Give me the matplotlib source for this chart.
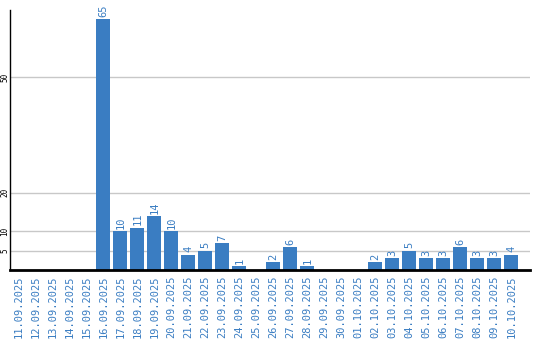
import matplotlib
matplotlib.use("Agg")
import matplotlib.pyplot as plt

dates = ["11.09.2025", "12.09.2025", "13.09.2025", "14.09.2025", "15.09.2025",
         "16.09.2025", "17.09.2025", "18.09.2025", "19.09.2025", "20.09.2025",
         "21.09.2025", "22.09.2025", "23.09.2025", "24.09.2025", "25.09.2025",
         "26.09.2025", "27.09.2025", "28.09.2025", "29.09.2025", "30.09.2025",
         "01.10.2025", "02.10.2025", "03.10.2025", "04.10.2025", "05.10.2025",
         "06.10.2025", "07.10.2025", "08.10.2025", "09.10.2025", "10.10.2025"]
counts = [0, 0, 0, 0, 0, 65, 10, 11, 14, 10, 4, 5, 7, 1, 0,
          2, 6, 1, 0, 0, 0, 2, 3, 5, 3, 3, 6, 3, 3, 4]
yticks = [5, 10, 20, 50]

blue = "#3a7dc2"
mono = "DejaVu Sans Mono"

fig = plt.figure(figsize=(5.4, 3.4), dpi=100)
ax = fig.add_axes([10 / 540, 70 / 340, 520 / 540, 260 / 340])

x = list(range(len(dates)))
ax.bar(x, counts, width=0.82, color=blue, zorder=2)

# value labels above non-empty bars
for xi, v in zip(x, counts):
    if v > 0:
        ax.text(xi, v + 0.6, str(v), rotation=90, ha="center", va="bottom",
                color=blue, fontsize=7.5, family=mono)

ax.set_xlim(-0.5, 30.1)
ax.set_ylim(0, 67.4)
ax.set_xticks(x)
ax.set_xticklabels(dates, rotation=90, color=blue, fontsize=7.5, family=mono)
ax.set_yticks(yticks)
ax.set_yticklabels([str(t) for t in yticks], rotation=90, va="center",
                   fontsize=5.5, family=mono)
ax.tick_params(length=0, axis="x", pad=4)
ax.tick_params(length=0, axis="y", pad=0.5)
ax.grid(axis="y", color="#c8c8c8", linewidth=1, zorder=0)

for s in ["top", "right"]:
    ax.spines[s].set_visible(False)
ax.spines["left"].set_linewidth(1)
ax.spines["bottom"].set_linewidth(2)
ax.spines["bottom"].set_zorder(3)

fig.savefig("out.png", dpi=100)
